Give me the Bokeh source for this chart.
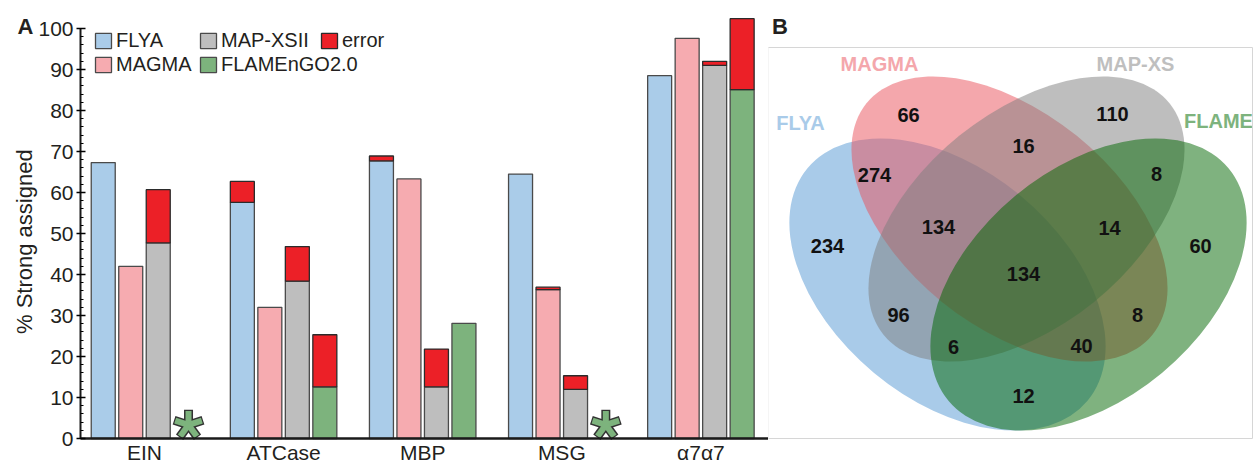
import math
from bokeh.plotting import figure
from bokeh.models import (ColumnDataSource, Range1d, SingleIntervalTicker, FixedTicker,
                          Legend, LegendItem, Label, BoxAnnotation)
from bokeh.layouts import row
from bokeh.core.properties import value
from bokeh.embed import file_html
from bokeh.resources import INLINE

# ---------------- data: panel A ----------------
categories = ["EIN", "ATCase", "MBP", "MSG", "α7α7"]
flya      = [67.3, 57.6, 67.7, 64.5, 88.5]
flya_err  = [0.0, 5.1, 1.2, 0.0, 0.0]
magma     = [42.0, 32.0, 63.3, 36.3, 97.6]
magma_err = [0.0, 0.0, 0.0, 0.6, 0.0]
mapxs     = [47.7, 38.4, 12.6, 12.0, 91.0]
mapxs_err = [13.0, 8.4, 9.2, 3.3, 1.0]
flame     = [None, 12.6, 28.1, None, 85.1]   # None = not available (asterisk)
flame_err = [0.0, 12.7, 0.0, 0.0, 17.3]
series_names = ["FLYA", "MAGMA", "MAP-XSII", "FLAMEnGO2.0"]
error_name = "error"
y_title = "% Strong assigned"

# ---------------- data: panel B (Venn) ----------------
venn_sets = ["FLYA", "MAGMA", "MAP-XS", "FLAME"]
venn_regions = ["MAGMA", "MAGMA&MAP-XS", "MAP-XS", "MAP-XS&FLAME",
                "FLYA&MAGMA", "FLYA&MAGMA&MAP-XS", "MAGMA&MAP-XS&FLAME",
                "FLYA", "FLAME", "ALL",
                "FLYA&MAP-XS", "MAGMA&FLAME", "FLYA&MAP-XS&FLAME",
                "FLYA&MAGMA&FLAME", "FLYA&FLAME"]
venn_counts = [66, 16, 110, 8, 274, 134, 14, 234, 60, 134, 96, 8, 6, 40, 12]

# ---------------- styles / layout ----------------
FONT = value("Liberation Sans")
TXT = "#231f20"
bar_colors = ["#AACCE9", "#F6ABB0", "#BEBEBE", "#7DB37D"]
err_color = "#EC2027"
edge = "#4a4a4a"
slot = 0.1977
bar_w = 0.1725
offsets = [-1.5 * slot, -0.5 * slot, 0.5 * slot, 1.5 * slot]

H = 465
X0 = -0.46          # data x where the y axis sits
X_LEFT = -1.0351    # data x at the left canvas edge
X_RIGHT = 4.486

p = figure(width=768, height=H, x_range=Range1d(X_LEFT, X_RIGHT),
           y_range=Range1d(-6.585, 106.83), output_backend="svg", title=None,
           toolbar_location=None,
           min_border_left=0, min_border_right=0, min_border_top=0,
           min_border_bottom=0)
p.outline_line_color = None
p.grid.visible = False
p.background_fill_color = "white"

yax = p.yaxis[0]
yax.fixed_location = X0
yax.ticker = SingleIntervalTicker(interval=10, num_minor_ticks=5)
yax.bounds = (0, 100)
yax.major_label_text_font = "Liberation Sans"
yax.major_label_text_font_size = "21px"
yax.major_label_text_color = TXT
yax.major_label_standoff = 3
yax.axis_line_width = 2
yax.axis_line_color = "#1a1a1a"
yax.major_tick_in = 5
yax.major_tick_out = 4
yax.minor_tick_in = 3
yax.minor_tick_out = 0
yax.major_tick_line_width = 1.5
yax.minor_tick_line_width = 1.2

xax = p.xaxis[0]
xax.fixed_location = 0
xax.ticker = FixedTicker(ticks=list(range(len(categories))))
xax.major_label_overrides = {i: c for i, c in enumerate(categories)}
xax.bounds = (X0, X_RIGHT)
xax.major_label_text_font = "Liberation Sans"
xax.major_label_text_font_size = "21px"
xax.major_label_text_color = TXT
xax.major_label_standoff = 2
xax.major_tick_in = 0
xax.major_tick_out = 0
xax.minor_tick_in = 0
xax.minor_tick_out = 0
xax.axis_line_width = 2.5
xax.axis_line_color = "#1a1a1a"

# y-axis title, left of the tick labels
p.add_layout(Label(x=-0.8626, y=48.0, text=y_title, angle=math.pi / 2,
                   text_font="Liberation Sans", text_font_size="22px",
                   text_align="center", text_baseline="middle", text_color=TXT))

series_vals = [flya, magma, mapxs, flame]
series_errs = [flya_err, magma_err, mapxs_err, flame_err]
renderers = []
ex, eb, et = [], [], []
for k, (vals, errs) in enumerate(zip(series_vals, series_errs)):
    xs = [i + offsets[k] for i in range(len(categories))]
    tops = [float("nan") if v is None else v for v in vals]
    src = ColumnDataSource(dict(x=xs, top=tops))
    r = p.vbar(x="x", top="top", bottom=0, width=bar_w, source=src,
               fill_color=bar_colors[k], line_color=edge, line_width=1.3)
    renderers.append(r)
    for i, (v, e) in enumerate(zip(vals, errs)):
        if v is not None and e > 0:
            ex.append(xs[i]); eb.append(v); et.append(v + e)

err_src = ColumnDataSource(dict(x=ex, bottom=eb, top=et))
r_err = p.vbar(x="x", top="top", bottom="bottom", width=bar_w, source=err_src,
               fill_color=err_color, line_color="#2b2b2b", line_width=1.3)

# asterisks where FLAMEnGO2.0 has no result (5-armed, outlined)
star_arm_deg = [90, 18, 162, 234, 306]
star_y = 3.3
miss_x = [i + offsets[3] + 0.02 for i, v in enumerate(flame) if v is None]
rx, ry, ra = [], [], []
for x0 in miss_x:
    for d in star_arm_deg:
        rx.append(x0); ry.append(star_y); ra.append(math.radians(d))
ray_src = ColumnDataSource(dict(x=rx, y=ry, a=ra))
p.ray(x="x", y="y", angle="a", length=15.2, length_units="screen", source=ray_src,
      line_color="#333333", line_width=9, line_cap="butt")
p.ray(x="x", y="y", angle="a", length=14.0, length_units="screen", source=ray_src,
      line_color="#7DB37D", line_width=6, line_cap="butt")
p.scatter(x=miss_x, y=[star_y] * len(miss_x), marker="circle", size=7,
          fill_color="#7DB37D", line_color=None)

# legends
def make_legend(items, loc):
    return Legend(items=items, location=loc, orientation="vertical",
                  border_line_color=None, background_fill_alpha=0,
                  padding=0, margin=0, spacing=1, glyph_width=20,
                  glyph_height=19, label_height=19, label_standoff=3,
                  label_text_font="Liberation Sans", label_text_font_size="20px",
                  label_text_color=TXT)

p.add_layout(make_legend([LegendItem(label=series_names[0], renderers=[renderers[0]]),
                          LegendItem(label=series_names[1], renderers=[renderers[1]])],
                         (93, H - 75.5)))
p.add_layout(make_legend([LegendItem(label=series_names[2], renderers=[renderers[2]]),
                          LegendItem(label=series_names[3], renderers=[renderers[3]])],
                         (198, H - 75.5)))
p.add_layout(make_legend([LegendItem(label=error_name, renderers=[r_err])],
                         (319, H - 51.5)))

p.add_layout(Label(x=-0.855, y=100.5, text="A", text_font="Liberation Sans",
                   text_font_size="22px", text_font_style="bold",
                   text_align="center", text_baseline="middle", text_color=TXT))

# ---------------- panel B: Venn ----------------
v = figure(width=491, height=H, x_range=Range1d(768, 1259),
           y_range=Range1d(-465, 0), output_backend="svg", title=None,
           toolbar_location=None, x_axis_location=None, y_axis_location=None,
           min_border_left=0, min_border_right=0, min_border_top=0,
           min_border_bottom=0)
v.outline_line_color = None
v.grid.visible = False

v.add_layout(BoxAnnotation(left=767.5, right=1252, top=-47, bottom=-438,
                           fill_alpha=0, line_color="#d6d6d6", line_alpha=1,
                           line_width=1))

# ellipse layout (pixel geometry of the Venn diagram)
ell_cx = [947, 1009, 1026, 1088]
ell_cy = [-284, -218.5, -218.5, -284]
ell_w = [364, 368, 368, 364]
ell_h = [230, 214, 214, 230]
ell_ang = [-39.7, -39.0, 39.0, 39.7]
ell_fill = ["#5397D3", "#E94F59", "#7D7D7D", "#006600"]
for k in range(4):
    v.ellipse(x=[ell_cx[k]], y=[ell_cy[k]], width=ell_w[k], height=ell_h[k],
              angle=math.radians(ell_ang[k]), fill_color=ell_fill[k],
              fill_alpha=0.5, line_color=None)

set_lx = [800, 879, 1135, 1218]
set_ly = [-122, -63, -63, -120]
set_col = ["#A9CBE9", "#F4A7AC", "#BFBFBF", "#7DB37D"]
v.text(x=set_lx, y=set_ly, text=venn_sets, text_color=set_col, text_font=FONT,
       text_font_size="20px", text_font_style="bold", text_align="center",
       text_baseline="middle")

cnt_lx = [908, 1023, 1112, 1156, 874, 938, 1109, 827, 1200, 1023, 898, 1137, 953, 1081, 1023]
cnt_ly = [-114, -145, -113, -173, -174, -226, -227, -245, -245, -273, -314, -314, -346, -345, -395]
v.text(x=cnt_lx, y=cnt_ly, text=[str(c) for c in venn_counts], text_color="#111111",
       text_font=FONT, text_font_size="20px", text_font_style="bold",
       text_align="center", text_baseline="middle")

v.add_layout(Label(x=779.5, y=-26, text="B", text_font="Liberation Sans",
                   text_font_size="22px", text_font_style="bold",
                   text_align="center", text_baseline="middle", text_color=TXT))

layout = row(p, v)
open("out.html", "w").write(file_html(layout, INLINE))
